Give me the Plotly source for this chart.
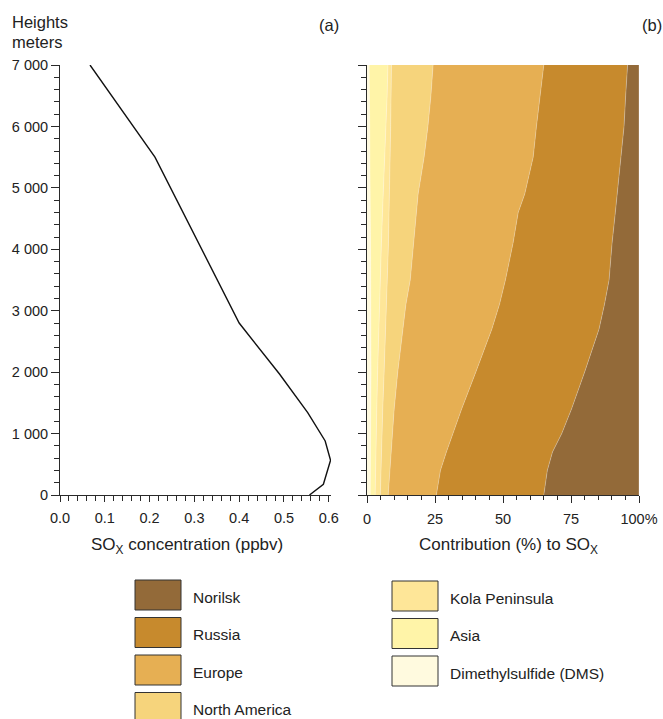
import plotly.graph_objects as go

W, H = 663, 719

# ---------------- data ----------------
# (a) SOx concentration profile
conc_height = [0, 175, 565, 880, 1340, 1970, 2800, 5500, 7000]
conc_ppbv = [0.557, 0.588, 0.604, 0.592, 0.553, 0.490, 0.400, 0.212, 0.067]

# (b) contribution (%) of each source at each height
heights = [0, 400, 700, 1000, 1400, 2000, 2700, 3100, 3500, 4100, 4600, 4900, 5500, 6000, 6500, 7000]
dms = [1.2, 1.2, 1.3, 1.3, 1.4, 1.5, 1.5, 1.4, 1.4, 1.3, 1.2, 1.2, 1.1, 1.0, 0.9, 0.8]
asia = [1.8, 1.9, 1.9, 2.1, 2.2, 2.4, 2.8, 3.2, 3.5, 4.0, 4.5, 4.8, 5.4, 6.0, 6.5, 6.9]
kola = [1.9, 2.0, 2.1, 2.1, 2.2, 2.4, 2.6, 2.6, 2.6, 2.6, 2.4, 2.3, 2.0, 1.7, 1.5, 1.3]
north_america = [2.9, 3.3, 3.6, 3.8, 4.2, 5.0, 6.2, 7.1, 8.4, 9.2, 10.0, 10.5, 12.5, 13.7, 14.6, 15.3]
europe = [17.7, 18.6, 20.3, 22.3, 24.8, 28.7, 32.8, 34.4, 35.0, 36.6, 37.5, 39.2, 40.1, 39.9, 40.2, 40.7]
russia = [39.5, 39.3, 39.0, 40.0, 40.4, 40.0, 39.4, 38.6, 38.1, 36.4, 35.7, 34.0, 32.3, 32.2, 31.4, 30.8]
norilsk = [35.0, 33.7, 31.8, 28.4, 24.8, 20.0, 14.7, 12.7, 11.0, 9.9, 8.7, 8.0, 6.6, 5.5, 4.9, 4.2]

sources = ["Dimethylsulfide (DMS)", "Asia", "Kola Peninsula", "North America", "Europe", "Russia", "Norilsk"]
source_values = [dms, asia, kola, north_america, europe, russia, norilsk]
source_colors = ["#FFFADF", "#FFF4A8", "#FEE698", "#F6D47C", "#E6AF53", "#C78A2D", "#936A39"]

y_tickvals = [0, 1000, 2000, 3000, 4000, 5000, 6000, 7000]
y_ticktext = ["0", "1 000", "2 000", "3 000", "4 000", "5 000", "6 000", "7 000"]
xa_tickvals = [0.0, 0.1, 0.2, 0.3, 0.4, 0.5, 0.6]
xa_ticktext = ["0.0", "0.1", "0.2", "0.3", "0.4", "0.5", "0.6"]
xb_tickvals = [0, 25, 50, 75, 100]
xb_ticktext = ["0", "25", "50", "75", "100%"]

legend_left = ["Norilsk", "Russia", "Europe", "North America"]
legend_right = ["Kola Peninsula", "Asia", "Dimethylsulfide (DMS)"]

# ---------------- figure ----------------
FONT = "Liberation Sans, Arial, Helvetica, sans-serif"
AX = "#2a2a2a"

fig = go.Figure()

fig.add_trace(go.Scatter(x=conc_ppbv, y=conc_height, mode="lines",
                         line=dict(color="#111111", width=1.4),
                         xaxis="x", yaxis="y", showlegend=False, hoverinfo="skip",
                         cliponaxis=False))

cum = [0.0] * len(heights)
for i, (name, vals, col) in enumerate(zip(sources, source_values, source_colors)):
    cum = [c + v for c, v in zip(cum, vals)]
    fig.add_trace(go.Scatter(x=list(cum), y=heights, mode="lines",
                             fill="tozerox" if i == 0 else "tonextx",
                             fillcolor=col,
                             line=dict(color="rgba(255,255,255,0.45)", width=0.6),
                             xaxis="x2", yaxis="y2", name=name,
                             showlegend=False, hoverinfo="skip"))

ydom = [1 - 495 / H, 1 - 65 / H]
common_y = dict(range=[0, 7000], domain=ydom, tickvals=y_tickvals, ticks="outside",
                ticklen=8, tickcolor=AX, tickwidth=1, showline=True, linecolor=AX,
                linewidth=1, showgrid=False, zeroline=False, automargin=False,
                minor=dict(dtick=200, tick0=0, ticks="outside", ticklen=5,
                           tickcolor=AX, tickwidth=1, showgrid=False),
                tickfont=dict(size=14.5, color="#222", family=FONT))

fig.update_layout(
    width=W, height=H, margin=dict(l=0, r=0, t=0, b=0, autoexpand=False),
    paper_bgcolor="white", plot_bgcolor="white",
    font=dict(family=FONT, color="#222"),
    xaxis=dict(domain=[60 / W, 331 / W], range=[0, 0.605], anchor="y",
               tickvals=xa_tickvals, ticktext=xa_ticktext, ticks="outside",
               ticklen=6, tickcolor=AX, showline=True, linecolor=AX, linewidth=1,
               showgrid=False, zeroline=False, ticklabelstandoff=4, automargin=False,
               minor=dict(dtick=0.02, tick0=0, ticks="outside", ticklen=5,
                          tickcolor=AX, showgrid=False),
               tickfont=dict(size=14.5, color="#222", family=FONT)),
    yaxis=dict(anchor="x", ticktext=y_ticktext, **common_y),
    xaxis2=dict(domain=[367 / W, 639 / W], range=[0, 100], anchor="y2",
                tickvals=xb_tickvals, ticktext=xb_ticktext, ticks="outside",
                ticklen=7, tickcolor=AX, showline=True, linecolor=AX, linewidth=1,
                showgrid=False, zeroline=False, ticklabelstandoff=4, automargin=False,
                minor=dict(dtick=5, tick0=0, ticks="outside", ticklen=4,
                           tickcolor=AX, showgrid=False),
                tickfont=dict(size=14.5, color="#222", family=FONT)),
    yaxis2=dict(anchor="x2", showticklabels=False, **common_y),
)

def px(x, y):
    return x / W, 1 - y / H

ann = []
def text(x, y, s, size, xanchor="left"):
    xp, yp = px(x, y)
    ann.append(dict(x=xp, y=yp, xref="paper", yref="paper", text=s, showarrow=False,
                    xanchor=xanchor, yanchor="middle",
                    font=dict(size=size, family=FONT, color="#222")))

text(10, 22, "Heights", 16.5)
text(10, 42, "meters", 16.5)
text(329, 25, "(a)", 16.5, "center")
text(652, 25, "(b)", 16.5, "center")
text(187, 546, "SO<sub>X</sub> concentration (ppbv)", 17, "center")
text(508, 546, "Contribution (%) to SO<sub>X</sub>", 17, "center")

shapes = []
color_of = dict(zip(sources, source_colors))
def legend_col(names, bx, top0):
    for k, nm in enumerate(names):
        t = top0 + k * 37.5
        x0, y1 = px(bx, t)
        x1, y0 = px(bx + 46, t + 30)
        shapes.append(dict(type="rect", xref="paper", yref="paper", x0=x0, x1=x1,
                           y0=y0, y1=y1, fillcolor=color_of[nm],
                           line=dict(color="#333", width=1)))
        text(bx + 56, t + 17, nm, 15.5)

legend_col(legend_left, 135, 580)
legend_col(legend_right, 392, 581)

fig.update_layout(annotations=ann, shapes=shapes)
fig.write_html("out.html")
